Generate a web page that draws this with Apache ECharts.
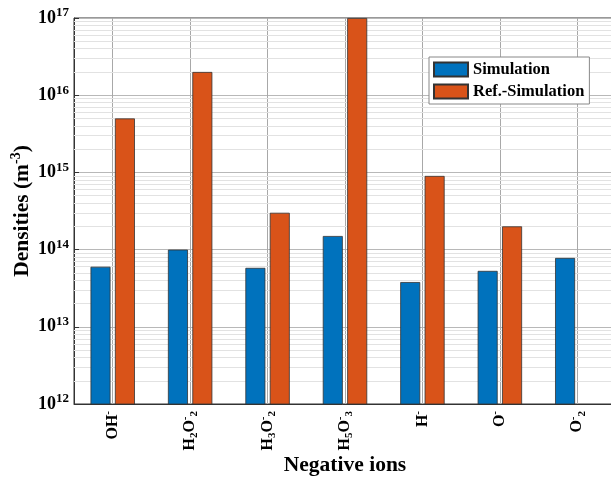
<!DOCTYPE html>
<html>
<head>
<meta charset="utf-8">
<script src="https://cdn.jsdelivr.net/npm/echarts@6/dist/echarts.min.js"></script>
<style>html,body{margin:0;padding:0;background:#fff}#c{width:611px;height:478px}</style>
</head>
<body>
<div id="c"></div>
<script>
const categories = ['OH-', 'H2O2-', 'H3O2-', 'H5O3-', 'H-', 'O-', 'O2-'];
const categoryLabels = [
  '{m|OH}{sp|-}',
  '{m|H}{sb|2}{m|O}{sp|-}{sb|2}',
  '{m|H}{sb|3}{m|O}{sp|-}{sb|2}',
  '{m|H}{sb|5}{m|O}{sp|-}{sb|3}',
  '{m|H}{sp|-}',
  '{m|O}{sp|-}',
  '{m|O}{sp|-}{sb|2}'
];
const simulation = [6.0e13, 1.0e14, 5.8e13, 1.5e14, 3.8e13, 5.3e13, 7.8e13];
const refSimulation = [5.0e15, 2.0e16, 3.0e14, 1.0e17, 9.0e14, 2.0e14, null];
const yTickExponents = [12, 13, 14, 15, 16, 17];
const yMin = 1e12, yMax = 1e17;

const minorLines = [];
for (let e = 12; e < 17; e++) for (let k = 2; k <= 9; k++) minorLines.push({ yAxis: k * Math.pow(10, e) });
const halfSteps = [];
for (let i = 0; i <= categories.length * 2; i++) halfSteps.push(String(i));

const font = 'Liberation Serif';
const chart = echarts.init(document.getElementById('c'));
chart.setOption({
  animation: false,
  backgroundColor: '#fff',
  grid: { left: 74, top: 18, right: -5, bottom: 74, show: true, borderColor: '#333', borderWidth: 1, backgroundColor: 'transparent', containLabel: false, outerBoundsMode: 'none' },
  legend: {
    orient: 'vertical', left: 429, top: 57, itemWidth: 34, itemHeight: 14, itemGap: 5, icon: 'rect', z: 10,
    data: ['Simulation', 'Ref.-Simulation'],
    textStyle: { fontFamily: font, fontWeight: 'bold', fontSize: 16.5, color: '#000' },
    backgroundColor: '#fff', borderColor: '#888', borderWidth: 1, padding: [4, 5, 4, 4]
  },
  xAxis: [{
    type: 'category', data: categories, boundaryGap: true,
    axisLine: { lineStyle: { color: '#333', width: 1 } },
    axisTick: { show: false },
    splitLine: { show: false },
    axisLabel: {
      interval: 0, rotate: 90, margin: 7, color: '#000',
      formatter: (v, i) => categoryLabels[i],
      rich: {
        m: { fontFamily: font, fontWeight: 'bold', fontSize: 16, color: '#000' },
        sp: { fontFamily: font, fontWeight: 'bold', fontSize: 11, color: '#000', padding: [0, 0, 9, 0] },
        sb: { fontFamily: font, fontWeight: 'bold', fontSize: 11, color: '#000', padding: [9, 0, 0, 0] }
      }
    },
    name: 'Negative ions', nameLocation: 'middle', nameGap: 50, nameMoveOverlap: false,
    nameTextStyle: { fontFamily: font, fontWeight: 'bold', fontSize: 21.5, color: '#000' }
  }, {
    type: 'category', data: halfSteps, boundaryGap: false, position: 'bottom',
    axisLine: { show: false }, axisTick: { show: false }, axisLabel: { show: false },
    splitLine: { show: true, interval: (i) => i % 2 === 1, lineStyle: { color: '#a8a8a8', width: 1 } }
  }],
  yAxis: {
    type: 'log', logBase: 10, min: yMin, max: yMax,
    axisLine: { show: true, lineStyle: { color: '#333', width: 1 } },
    axisTick: { show: true, inside: true, length: 5, lineStyle: { color: '#333' } },
    splitLine: { show: true, lineStyle: { color: '#b8b8b8', width: 1 } },
    axisLabel: {
      margin: 5, color: '#000',
      formatter: (v) => {
        const e = Math.round(Math.log10(v));
        return yTickExponents.includes(e) ? '{b|10}{s|' + e + '}' : '';
      },
      rich: {
        b: { fontFamily: font, fontWeight: 'bold', fontSize: 18, color: '#000' },
        s: { fontFamily: font, fontWeight: 'bold', fontSize: 13, color: '#000', padding: [0, 0, 10, 0] }
      }
    },
    name: 'Densities (m{sp|-3})', nameLocation: 'middle', nameGap: 39, nameMoveOverlap: false,
    nameTextStyle: {
      fontFamily: font, fontWeight: 'bold', fontSize: 21.5, color: '#000',
      rich: { sp: { fontFamily: font, fontWeight: 'bold', fontSize: 14, color: '#000', padding: [0, 0, 12, 0] } }
    }
  },
  series: [{
    type: 'line', data: [], z: 1, silent: true, showSymbol: false,
    markLine: {
      silent: true, symbol: 'none', label: { show: false }, animation: false, z: 1,
      lineStyle: { color: '#e2e2e2', type: 'solid', width: 1 },
      data: minorLines
    }
  }, {
    name: 'Simulation', type: 'bar', data: simulation, barWidth: 20, barGap: '22%', z: 3,
    itemStyle: { color: '#0072BD', borderColor: '#333', borderWidth: 0.8 }
  }, {
    name: 'Ref.-Simulation', type: 'bar', data: refSimulation, barWidth: 20, z: 3,
    itemStyle: { color: '#D95319', borderColor: '#333', borderWidth: 0.8 }
  }]
});
</script>
</body>
</html>
